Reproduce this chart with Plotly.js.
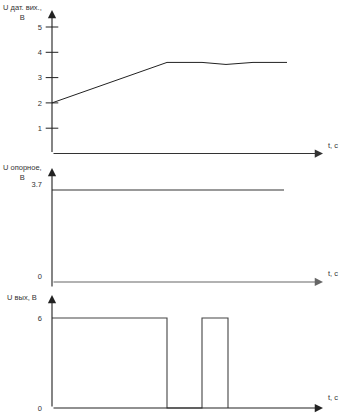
<!DOCTYPE html>
<html><head><meta charset="utf-8">
<script src="https://cdn.plot.ly/plotly-3.0.1.min.js"></script>
<style>html,body{margin:0;padding:0;background:#fff}#chart{width:344px;height:419px}</style>
</head><body><div id="chart"></div>
<script>
// Sensor output voltage over time
const sensorT = [0, 11.5, 15.0, 17.4, 20.1, 23.5];
const sensorU = [2, 3.6, 3.6, 3.52, 3.6, 3.6];
const sensorTicks = [1, 2, 3, 4, 5];
// Reference voltage
const refT = [0, 23.2];
const refU = [3.7, 3.7];
const refTicks = [0, 3.7];
const refTickText = ['0', '3.7'];
// Comparator output
const outT = [0, 11.5, 11.5, 15.0, 15.0, 17.6, 17.6];
const outU = [6, 6, 0, 0, 6, 6, 0];
const outTicks = [0, 6];
const panelTitles = ['U дат. вих.,<br>В', 'U опорное,<br>В', 'U вых, В'];
const timeLabel = 't, с';

const W = 344, H = 419;
const px = x => x / W;
const py = y => 1 - y / H;
const ink = '#222';
const textCol = '#333';
const font = {family: 'Liberation Sans, Arial, sans-serif', size: 7.5, color: textCol};

const tMin = -5.2, tMax = 29.2, tTip = 27.1;

const traces = [
  {x: sensorT, y: sensorU, xaxis: 'x', yaxis: 'y', mode: 'lines',
   line: {color: ink, width: 1}},
  {x: sensorTicks.map(() => 0), y: sensorTicks, xaxis: 'x', yaxis: 'y', mode: 'markers',
   marker: {symbol: 'line-ew', size: 9, line: {color: ink, width: 1}}},
  {x: refT, y: refU, xaxis: 'x2', yaxis: 'y2', mode: 'lines',
   line: {color: '#777', width: 1.3}},
  {x: outT, y: outU, xaxis: 'x3', yaxis: 'y3', mode: 'lines',
   line: {color: '#444', width: 1.1}}
];

function yAxis(domain, range, vals, text, shift) {
  return {
    domain: domain, range: range, anchor: 'free', position: px(52),
    showline: false, showgrid: false, zeroline: false, ticks: '',
    tickmode: 'array', tickvals: vals, ticktext: text,
    tickfont: font, ticklabelstandoff: 10, ticklabelshift: shift || 0, fixedrange: true
  };
}
function xAxis(anchor) {
  return {domain: [0, 1], range: [tMin, tMax], anchor: anchor, visible: false, fixedrange: true};
}

// Axis arrows: head at (x, y), tail at (ax, ay), in data coordinates
function arrow(xr, yr, x, y, ax, ay, col) {
  return {xref: xr, yref: yr, axref: xr, ayref: yr, x: x, y: y, ax: ax, ay: ay,
    text: '', showarrow: true, arrowhead: 2, arrowsize: 1.5, arrowwidth: 1.1, arrowcolor: col || ink};
}
function tLabel(yr, y) {
  return {xref: 'x', yref: yr, x: 27.4, y: y, text: timeLabel, showarrow: false,
    xanchor: 'left', yanchor: 'bottom', font: font};
}
function title(text, y) {
  return {xref: 'paper', yref: 'paper', x: px(22), y: py(y), text: text, showarrow: false,
    xanchor: 'center', yanchor: 'top', align: 'center', font: font};
}

const layout = {
  width: W, height: H, margin: {l: 0, r: 0, t: 0, b: 0},
  paper_bgcolor: '#fff', plot_bgcolor: '#fff', showlegend: false,
  xaxis: xAxis('y'), xaxis2: xAxis('y2'), xaxis3: xAxis('y3'),
  yaxis: yAxis([py(160), 1], [-0.257, 6.067], sensorTicks, sensorTicks.map(String)),
  yaxis2: yAxis([py(290), py(160)], [-0.322, 4.907], refTicks, refTickText, -6),
  yaxis3: yAxis([0, py(290)], [-0.733, 7.867], outTicks, outTicks.map(String), -2.5),
  annotations: [
    arrow('x', 'y', 0, 5.67, 0, 0),
    arrow('x', 'y', tTip, 0, 0, 0, '#333'),
    arrow('x2', 'y2', 0, 4.59, 0, -0.24),
    arrow('x2', 'y2', tTip, 0, 0, 0, '#666'),
    arrow('x3', 'y3', 0, 7.53, 0, 0),
    arrow('x3', 'y3', tTip, 0, 0, 0),
    tLabel('y', 0.05), tLabel('y2', 0.1), tLabel('y3', 0.25),
    title(panelTitles[0], 1), title(panelTitles[1], 161), title(panelTitles[2], 291)
  ]
};

Plotly.newPlot('chart', traces, layout, {staticPlot: true});
</script>
</body></html>
